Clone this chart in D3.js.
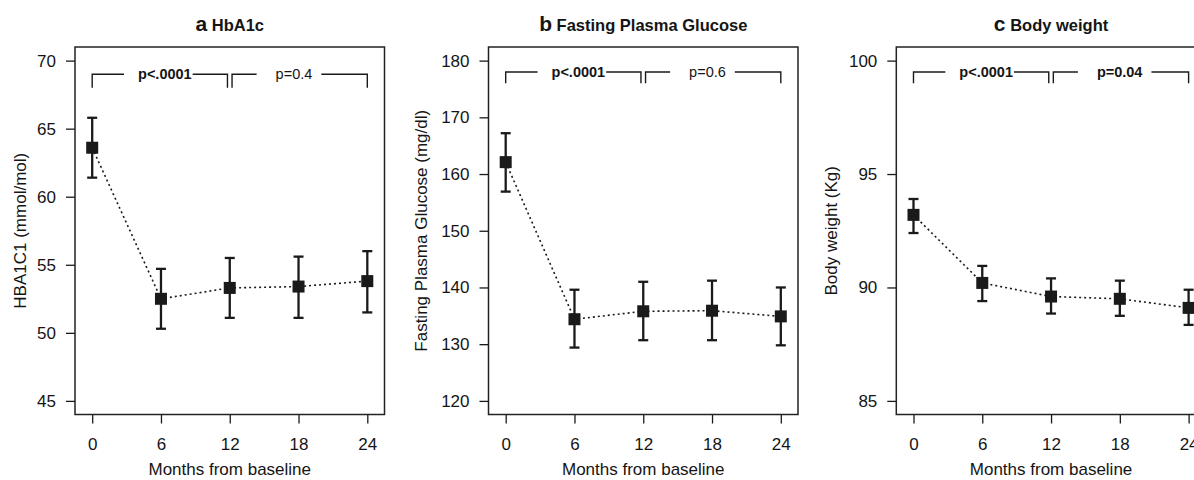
<!DOCTYPE html>
<html>
<head>
<meta charset="utf-8">
<script src="https://cdn.jsdelivr.net/npm/d3@7"></script>
<style>
  body { margin: 0; background: #fff; }
  text { font-family: 'Liberation Sans', Arial, sans-serif; fill: #151515; }
</style>
</head>
<body>
<div id="chart"></div>
<script>
// mois de suivi
const months = [0, 6, 12, 18, 24]
const monthTicks = [0, 6, 12, 18, 24]
const monthLim = [-0.5, 24.5]

// a HbA1c
const hba1cMean = [63.6, 52.5, 53.3, 53.4, 53.8]
const hba1cLow = [61.4, 50.3, 51.1, 51.1, 51.5]
const hba1cHigh = [65.8, 54.7, 55.5, 55.6, 56.0]
const hba1cTicks = [45, 50, 55, 60, 65, 70]
const hba1cLim = [45, 70]
const hba1cBracket = [69, 68]
const hba1cP = ['p<.0001', 'p=0.4']
const hba1cBold = [true, false]

// b glycemie a jeun
const fpgMean = [162.1, 134.4, 135.8, 135.9, 134.9]
const fpgLow = [156.9, 129.4, 130.7, 130.7, 129.8]
const fpgHigh = [167.2, 139.6, 141.0, 141.2, 140.0]
const fpgTicks = [120, 130, 140, 150, 160, 170, 180]
const fpgLim = [120, 180]
const fpgBracket = [178, 176]
const fpgP = ['p<.0001', 'p=0.6']
const fpgBold = [true, false]

// c poids
const weightMean = [93.2, 90.2, 89.6, 89.5, 89.1]
const weightLow = [92.4, 89.4, 88.85, 88.75, 88.35]
const weightHigh = [93.9, 90.95, 90.4, 90.3, 89.9]
const weightTicks = [85, 90, 95, 100]
const weightLim = [85, 100]
const weightBracket = [99.5, 99]
const weightP = ['p<.0001', 'p=0.04']
const weightBold = [true, true]

// crochets de comparaison (en mois) et debut du texte
const bracketSpans = [[0, 11.8], [12.2, 24]]
const bracketTextX = [4, 16]

const WIDTH = 1194
const HEIGHT = 480
const BOX_TOP = 47
const BOX_BOTTOM = 414.5
const BOX_WIDTH = 309.5
const INK = '#1a1a1a'
const FONT = 17
const GAP_LEFT = [14, 19] // espace avant le texte p
const GAP_RIGHT = [1, 9]

const panels = [
  { letter: 'a', title: 'HbA1c', ylabel: 'HBA1C1 (mmol/mol)', left: 75, ylabelX: 20,
    mean: hba1cMean, low: hba1cLow, high: hba1cHigh, ticks: hba1cTicks, lim: hba1cLim,
    bracket: hba1cBracket, p: hba1cP, bold: hba1cBold },
  { letter: 'b', title: 'Fasting Plasma Glucose', ylabel: 'Fasting Plasma Glucose (mg/dl)', left: 488.5, ylabelX: 421,
    mean: fpgMean, low: fpgLow, high: fpgHigh, ticks: fpgTicks, lim: fpgLim,
    bracket: fpgBracket, p: fpgP, bold: fpgBold },
  { letter: 'c', title: 'Body weight', ylabel: 'Body weight (Kg)', left: 896.3, ylabelX: 830.7,
    mean: weightMean, low: weightLow, high: weightHigh, ticks: weightTicks, lim: weightLim,
    bracket: weightBracket, p: weightP, bold: weightBold }
]

// extension de 4% comme dans R
const extend = lim => {
  const d = (lim[1] - lim[0]) * 0.04
  return [lim[0] - d, lim[1] + d]
}

const svg = d3.select('#chart').append('svg')
  .attr('width', WIDTH).attr('height', HEIGHT)
  .style('display', 'block')

panels.forEach(p => {
  const x = d3.scaleLinear()
    .domain(extend(monthLim))
    .range([p.left, p.left + BOX_WIDTH])
  const y = d3.scaleLinear()
    .domain(extend(p.lim))
    .range([BOX_BOTTOM, BOX_TOP])

  const g = svg.append('g')

  // titre
  const title = g.append('text')
    .attr('x', p.left + BOX_WIDTH / 2)
    .attr('y', 31)
    .attr('text-anchor', 'middle')
    .attr('font-weight', 'bold')
  title.append('tspan').attr('font-size', 21).text(p.letter)
  title.append('tspan').attr('font-size', 16.5).text(' ' + p.title)

  // axes
  g.append('g')
    .attr('transform', `translate(${p.left}, 0)`)
    .call(d3.axisLeft(y).tickValues(p.ticks).tickSize(9).tickPadding(10))
    .call(a => a.select('.domain').remove())
    .call(a => a.selectAll('line').attr('stroke', INK).attr('stroke-width', 1.3))
    .call(a => a.selectAll('text').attr('font-size', FONT).attr('fill', '#151515')
      .attr('font-family', "'Liberation Sans', Arial, sans-serif"))

  g.append('g')
    .attr('transform', `translate(0, ${BOX_BOTTOM})`)
    .call(d3.axisBottom(x).tickValues(monthTicks).tickSize(9).tickPadding(14.5))
    .call(a => a.select('.domain').remove())
    .call(a => a.selectAll('line').attr('stroke', INK).attr('stroke-width', 1.3))
    .call(a => a.selectAll('text').attr('font-size', FONT).attr('fill', '#151515')
      .attr('font-family', "'Liberation Sans', Arial, sans-serif"))

  g.append('text')
    .attr('x', p.left + BOX_WIDTH / 2)
    .attr('y', 475)
    .attr('text-anchor', 'middle')
    .attr('font-size', FONT)
    .text('Months from baseline')

  g.append('text')
    .attr('transform', `translate(${p.ylabelX}, ${(BOX_TOP + BOX_BOTTOM) / 2}) rotate(-90)`)
    .attr('text-anchor', 'middle')
    .attr('dy', '0.35em')
    .attr('font-size', FONT)
    .text(p.ylabel)

  // cadre
  g.append('rect')
    .attr('x', p.left).attr('y', BOX_TOP)
    .attr('width', BOX_WIDTH).attr('height', BOX_BOTTOM - BOX_TOP)
    .attr('fill', 'none').attr('stroke', '#222').attr('stroke-width', 1.5)

  // crochets + p
  bracketSpans.forEach((span, i) => {
    const t = g.append('text')
      .attr('x', x(bracketTextX[i]))
      .attr('y', y(p.bracket[0]))
      .attr('dy', '0.35em')
      .attr('font-size', 14.5)
      .attr('font-weight', p.bold[i] ? 'bold' : 'normal')
      .text(p.p[i])
    const w = t.node().getComputedTextLength()
    const tx0 = x(bracketTextX[i])
    const yTop = y(p.bracket[0])
    const yBot = y(p.bracket[1])
    const path = d3.path()
    path.moveTo(x(span[0]), yBot)
    path.lineTo(x(span[0]), yTop)
    path.lineTo(tx0 - GAP_LEFT[i], yTop)
    path.moveTo(tx0 + w + GAP_RIGHT[i], yTop)
    path.lineTo(x(span[1]), yTop)
    path.lineTo(x(span[1]), yBot)
    g.append('path')
      .attr('d', path.toString())
      .attr('fill', 'none')
      .attr('stroke', INK)
      .attr('stroke-width', 1.4)
  })

  const pts = months.map((m, i) => ({ m, mean: p.mean[i], low: p.low[i], high: p.high[i] }))

  // ligne pointillee
  g.append('path')
    .datum(pts)
    .attr('d', d3.line().x(d => x(d.m)).y(d => y(d.mean)))
    .attr('fill', 'none')
    .attr('stroke', INK)
    .attr('stroke-width', 1.6)
    .attr('stroke-dasharray', '2,3')

  // barres d'erreur
  const eb = g.append('g').attr('stroke', INK).attr('stroke-width', 2.3)
  eb.selectAll('.v').data(pts).enter().append('line')
    .attr('x1', d => x(d.m)).attr('x2', d => x(d.m))
    .attr('y1', d => y(d.low)).attr('y2', d => y(d.high))
  eb.selectAll('.lo').data(pts).enter().append('line')
    .attr('x1', d => x(d.m) - 5).attr('x2', d => x(d.m) + 5)
    .attr('y1', d => y(d.low)).attr('y2', d => y(d.low))
  eb.selectAll('.hi').data(pts).enter().append('line')
    .attr('x1', d => x(d.m) - 5).attr('x2', d => x(d.m) + 5)
    .attr('y1', d => y(d.high)).attr('y2', d => y(d.high))

  // carres
  g.selectAll('rect.pt').data(pts).enter().append('rect')
    .attr('class', 'pt')
    .attr('x', d => x(d.m) - 6)
    .attr('y', d => y(d.mean) - 6)
    .attr('width', 12).attr('height', 12)
    .attr('fill', INK)
})
</script>
</body>
</html>
